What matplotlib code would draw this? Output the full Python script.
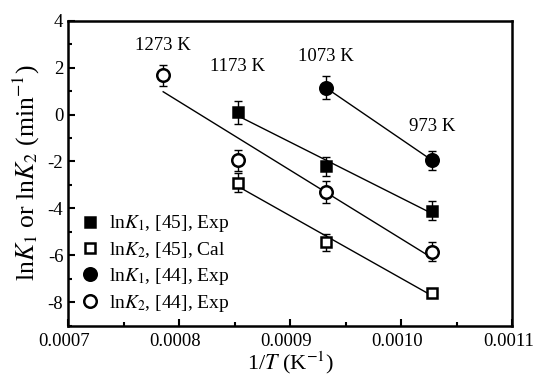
import matplotlib
matplotlib.use("Agg")
import matplotlib.pyplot as plt
import matplotlib.transforms as mtransforms
import numpy as np
from matplotlib.ticker import MultipleLocator, AutoMinorLocator, FuncFormatter

plt.rcParams['font.family'] = ['Liberation Serif', 'DejaVu Serif']
plt.rcParams['mathtext.fontset'] = 'stix'
plt.rcParams['axes.unicode_minus'] = False

# temperatures (K) for each data set
T_k1_45 = [1173, 1073, 973]
T_k2_45 = [1173, 1073, 973]
T_k1_44 = [1073, 973]
T_k2_44 = [1273, 1173, 1073, 973]

# ln K values
lnk1_45 = [0.1, -2.2, -4.1]
lnk2_45 = [-2.9, -5.45, -7.6]
lnk1_44 = [1.15, -1.95]
lnk2_44 = [1.67, -1.95, -3.3, -5.85]

# error bar half widths
err_k1_45 = [0.5, 0.4, 0.4]
err_k2_45 = [0.4, 0.35, 0.1]
err_k1_44 = [0.5, 0.4]
err_k2_44 = [0.45, 0.45, 0.45, 0.4]

temp_labels = ['1273 K', '1173 K', '1073 K', '973 K']
label_T = [1273, 1173, 1073, 973]
label_y = [2.95, 2.05, 2.5, -0.5]


def main():
    fig = plt.figure(figsize=(5.33, 3.79), dpi=100)
    ax = fig.add_axes([0.128, 0.141, 0.833, 0.804])

    sets = [
        (T_k1_45, lnk1_45, err_k1_45, 's', 'black', r'ln$\mathit{K}_1$, [45], Exp', 7.5),
        (T_k2_45, lnk2_45, err_k2_45, 's', 'white', r'ln$\mathit{K}_2$, [45], Cal', 7.5),
        (T_k1_44, lnk1_44, err_k1_44, 'o', 'black', r'ln$\mathit{K}_1$, [44], Exp', 9),
        (T_k2_44, lnk2_44, err_k2_44, 'o', 'white', r'ln$\mathit{K}_2$, [44], Exp', 9),
    ]

    for T, y, e, m, fc, lab, ms in sets:
        x = 1.0 / np.array(T)
        y = np.array(y)
        a, b = np.polyfit(x, y, 1)
        xs = np.array([x.min(), x.max()])
        ax.plot(xs, a * xs + b, color='black', lw=1, zorder=1)
        ax.errorbar(x, y, yerr=e, fmt='none', ecolor='black', elinewidth=1,
                    capsize=3, capthick=1, zorder=2)
        ax.plot(x, y, ls='none', marker=m, ms=ms, mfc=fc, mec='black',
                mew=1.8, label=lab, zorder=3)

    for t, yy, s in zip(label_T, label_y, temp_labels):
        ax.text(1.0 / t, yy, s, ha='center', va='center', fontsize=13.5)

    ax.set_xlim(0.0007, 0.0011)
    ax.set_ylim(-9, 4)
    ax.xaxis.set_major_locator(MultipleLocator(0.0001))
    ax.yaxis.set_major_locator(MultipleLocator(2))
    ax.xaxis.set_minor_locator(AutoMinorLocator(2))
    ax.yaxis.set_minor_locator(AutoMinorLocator(2))
    ax.xaxis.set_major_formatter(FuncFormatter(lambda v, p: '%.4f' % v))
    ax.yaxis.set_major_formatter(FuncFormatter(lambda v, p: '%d' % round(v)))
    ax.tick_params(which='both', direction='in', labelsize=13.5, width=1.5)
    ax.tick_params(which='major', length=5)
    ax.tick_params(which='minor', length=3)
    ax.tick_params(axis='x', pad=5)
    for sp in ax.spines.values():
        sp.set_linewidth(1.8)

    # nudge x tick labels a little to the left, as in the original
    shift = mtransforms.ScaledTranslation(-4 / 100, 0, fig.dpi_scale_trans)
    for lbl in ax.get_xticklabels():
        lbl.set_transform(lbl.get_transform() + shift)

    ax.set_xlabel(r'1/$\mathit{T}$ (K$^{-1}$)', fontsize=16, labelpad=0)
    ax.set_ylabel(r'ln$\mathit{K}_1$ or ln$\mathit{K}_2$ (min$^{-1}$)', fontsize=18.5, labelpad=4)

    ax.legend(loc='lower left', frameon=False, fontsize=14, handlelength=1,
              handletextpad=0.5, labelspacing=0.3, borderaxespad=0.2,
              bbox_to_anchor=(0.0, 0.0))

    fig.savefig('out.png', dpi=100)


if __name__ == '__main__':
    main()
